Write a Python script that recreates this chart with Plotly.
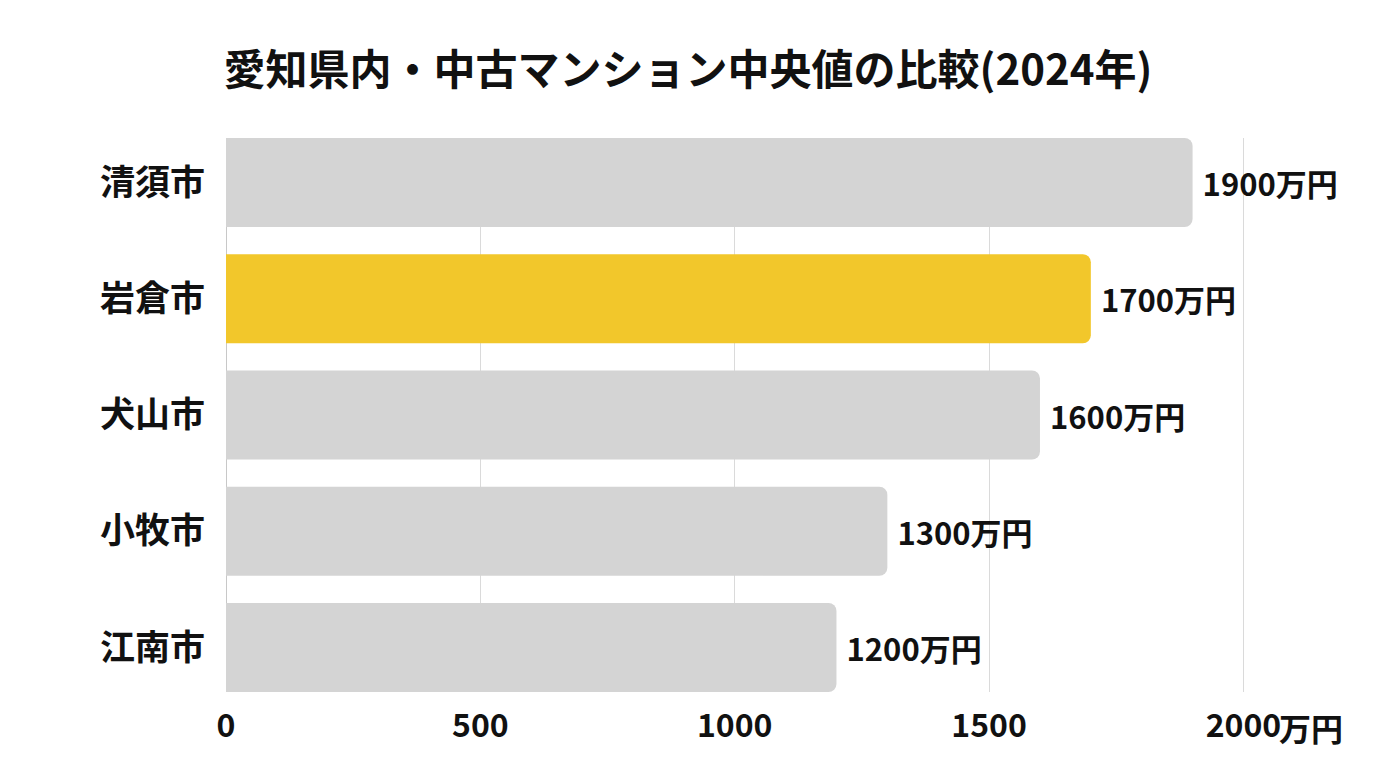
import plotly.graph_objects as go

categories = ["清須市", "岩倉市", "犬山市", "小牧市", "江南市"]
values = [1900, 1700, 1600, 1300, 1200]
highlight = "岩倉市"
tick_vals = [0, 500, 1000, 1500, 2000]
tick_text = ["0", "500", "1000", "1500", "2000"]
unit = "万円"
title = "愛知県内・中古マンション中央値の比較(2024年)"

GRAY = "#d4d4d4"
YELLOW = "#f2c72b"
FONT = "Noto Sans CJK JP"

colors = [YELLOW if c == highlight else GRAY for c in categories]

fig = go.Figure(go.Bar(
    y=categories,
    x=values,
    orientation="h",
    marker=dict(color=colors, line=dict(width=0)),
    text=[f" {v}{unit}" for v in values],
    textposition="outside",
    textfont=dict(family=FONT, size=31, color="#111111", weight="bold"),
    cliponaxis=False,
    hoverinfo="skip",
))

fig.update_layout(
    width=1360, height=752,
    margin=dict(l=218, r=122, t=130, b=68),
    paper_bgcolor="white", plot_bgcolor="white",
    bargap=0.234,
    barcornerradius=8,
    showlegend=False,
    title=dict(text=title, x=0.5, xanchor="center", y=1 - 62 / 752, yanchor="middle",
               font=dict(family=FONT, size=42, color="#111111", weight="bold")),
    font=dict(family=FONT, color="#111111"),
)

fig.update_xaxes(
    range=[0, 2005],
    tickvals=tick_vals, ticktext=tick_text,
    showgrid=True, gridcolor="#dadada", gridwidth=1,
    zeroline=True, zerolinecolor="#c8c8c8", zerolinewidth=1,
    showline=False, ticks="",
    ticklabelstandoff=12,
    tickfont=dict(family=FONT, size=32, color="#111111", weight="bold"),
)
fig.update_yaxes(
    categoryorder="array", categoryarray=categories,
    autorange=False, range=[4.383, -0.383],
    showgrid=False, ticks="", showline=False,
    ticklabelstandoff=20,
    tickfont=dict(family=FONT, size=35, color="#111111", weight="bold"),
)

fig.add_annotation(
    x=2000, y=0, xref="x", yref="paper",
    text=unit, showarrow=False, xanchor="left", yanchor="middle",
    xshift=34, yshift=-35,
    font=dict(family=FONT, size=32, color="#111111", weight="bold"),
)

fig.write_html("out.html")
